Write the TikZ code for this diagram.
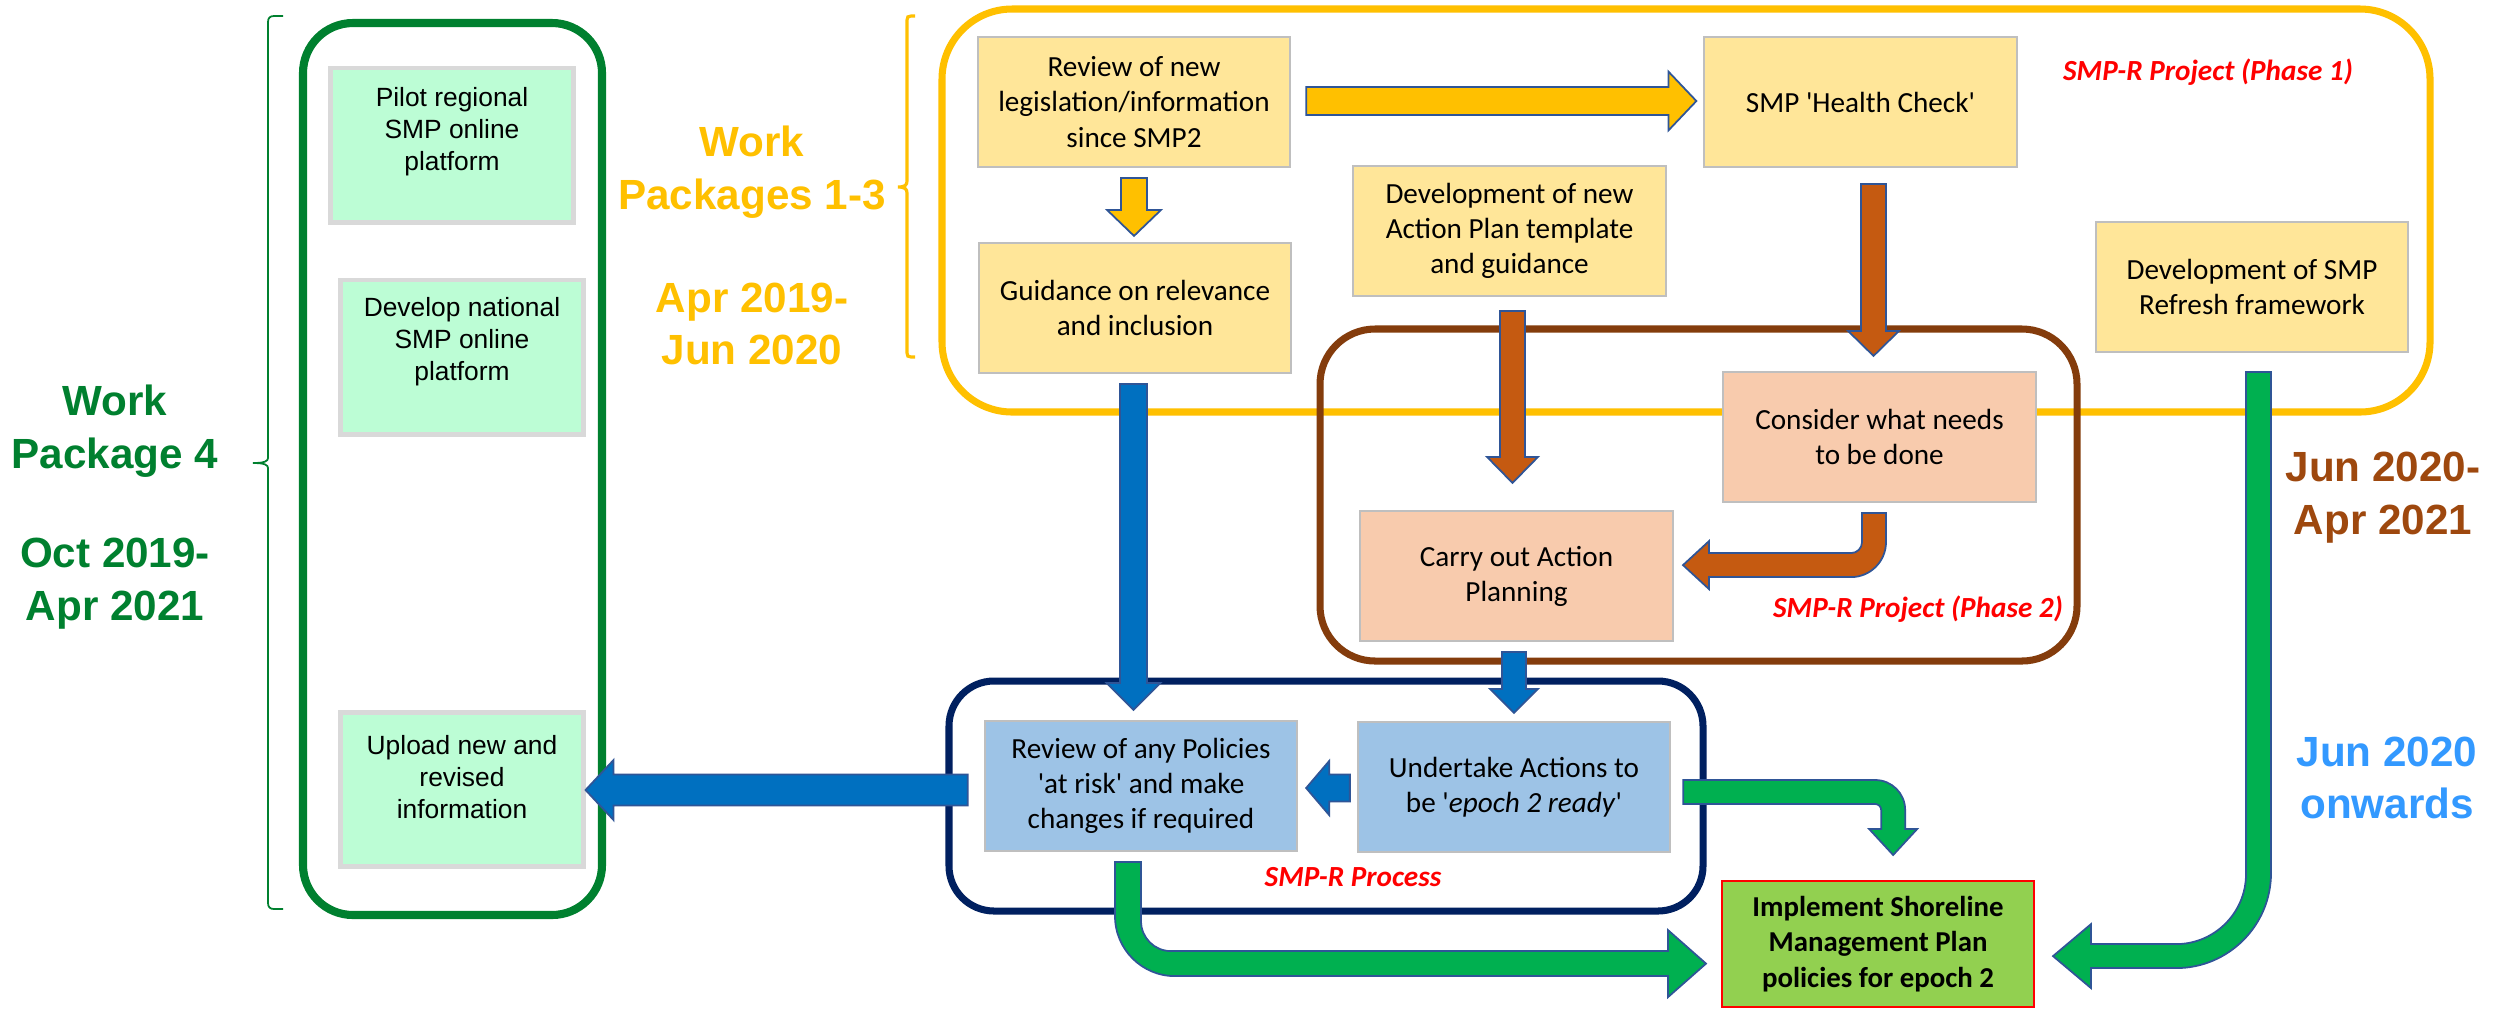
\documentclass[tikz,border=0pt]{standalone}
\usepackage{fontspec}
\newfontfamily\calfont{Carlito}
\newfontfamily\arialfont{Liberation Sans}
\usetikzlibrary{calc}
\definecolor{yfill}{HTML}{FFE699}
\definecolor{pfill}{HTML}{F8CBAD}
\definecolor{bfill}{HTML}{9DC3E6}
\definecolor{gfill}{HTML}{BCFDD5}
\definecolor{ifill}{HTML}{92D050}
\definecolor{boxline}{HTML}{BFBFBF}
\definecolor{gboxline}{HTML}{D9D9D9}
\definecolor{yframe}{HTML}{FFC000}
\definecolor{bframe}{HTML}{843C0C}
\definecolor{nframe}{HTML}{002060}
\definecolor{gframe}{HTML}{00802F}
\definecolor{arrline}{HTML}{2F5597}
\definecolor{brarr}{HTML}{C55A11}
\definecolor{blarr}{HTML}{0070C0}
\definecolor{grarr}{HTML}{00B050}
\definecolor{brtext}{HTML}{9E480E}
\definecolor{bltext}{HTML}{3399FF}
\definecolor{redtext}{HTML}{FF0000}
\newcommand\sq{\textquotesingle}
% block arrows: style, start, tip, shaft half width, head half width, head length
\newcommand\blkdown[6]{\draw[#1] ($#2+(-#4,0)$) -- ($#3+(-#4,-#6)$) -- ($#3+(-#5,-#6)$) -- #3 -- ($#3+(#5,-#6)$) -- ($#3+(#4,-#6)$) -- ($#2+(#4,0)$) -- cycle;}
\newcommand\blkright[6]{\draw[#1] ($#2+(0,-#4)$) -- ($#3+(-#6,-#4)$) -- ($#3+(-#6,-#5)$) -- #3 -- ($#3+(-#6,#5)$) -- ($#3+(-#6,#4)$) -- ($#2+(0,#4)$) -- cycle;}
\newcommand\blkleft[6]{\draw[#1] ($#2+(0,-#4)$) -- ($#3+(#6,-#4)$) -- ($#3+(#6,-#5)$) -- #3 -- ($#3+(#6,#5)$) -- ($#3+(#6,#4)$) -- ($#2+(0,#4)$) -- cycle;}
\tikzset{
  boxtext/.style={font=\calfont\fontsize{8.3}{10}\selectfont, align=center, inner sep=1pt},
  ybox/.style={boxtext, draw=boxline, line width=0.6pt, fill=yfill, minimum width=3.12cm, minimum height=1.3cm},
  pbox/.style={ybox, fill=pfill},
  bbox/.style={ybox, fill=bfill},
  ibox/.style={boxtext, font=\calfont\bfseries\fontsize{8.2}{10.2}\selectfont, draw=redtext, line width=0.7pt, fill=ifill, minimum width=3.12cm, minimum height=1.26cm},
  gbox/.style={draw=gboxline, line width=1.4pt, fill=gfill, minimum width=2.42cm, minimum height=1.54cm},
  gtxt/.style={font=\arialfont\fontsize{7.5}{9.1}\selectfont, align=center, inner sep=0pt},
  biglbl/.style={font=\arialfont\bfseries\fontsize{12}{15}\selectfont, align=center, inner sep=0pt},
  redlbl/.style={font=\calfont\bfseries\itshape\fontsize{8.3}{10}\selectfont, text=redtext, inner sep=0pt},
  frame/.style={line width=2pt},
  arr/.style={draw=arrline, line width=0.5pt, line join=miter},
  yarrow/.style={arr, fill=yframe},
  brarrow/.style={arr, fill=brarr},
  blarrow/.style={arr, fill=blarr},
  grarrow/.style={arr, fill=grarr},
}
\begin{document}
\begin{tikzpicture}[x=0.01cm, y=-0.01cm]
\fill[white] (0,0) rectangle (2494,1011);
\useasboundingbox (0,0) rectangle (2494,1011);

% frames
\draw[frame, draw=yframe, rounded corners=0.7cm] (942,9) rectangle (2430,412);
\draw[frame, draw=bframe, rounded corners=0.55cm] (1320,329) rectangle (2077,661);
\draw[frame, draw=nframe, rounded corners=0.45cm] (949,681) rectangle (1703,911);
\draw[frame, draw=gframe, line width=2.3pt, rounded corners=0.5cm] (303,23) rectangle (602,915);

% braces
\draw[gframe, line width=0.5pt] (283,16) -- (274,16) .. controls (270,16) and (268,18) .. (268,22) -- (268,458) .. controls (268,461) and (265,463) .. (253,463) .. controls (265,463) and (268,465) .. (268,468) -- (268,903) .. controls (268,907) and (270,909) .. (274,909) -- (283,909);
\draw[yframe, line width=0.9pt] (915,16) -- (911,16) .. controls (908,16) and (907,17) .. (907,20) -- (907,181) .. controls (907,185) and (905,187) .. (898,187) .. controls (905,187) and (907,189) .. (907,193) -- (907,353) .. controls (907,356) and (908,357) .. (911,357) -- (915,357);

% left column
\node[gbox] (pilot) at (452,145) {};
\node[gtxt] (pilottxt) at ($(pilot.center)+(0,-13)$) {Pilot regional\\SMP online\\platform};
\node[gbox] (devnat) at (462,357) {};
\node[gtxt] (devnattxt) at ($(devnat.center)+(0,-15)$) {Develop national\\SMP online\\platform};
\node[gbox] (upload) at (462,789.5) {};
\node[gtxt] (uploadtxt) at ($(upload.center)+(0,-12.5)$) {Upload new and\\revised\\information};

% process boxes
\node[ybox] (rev) at (1134,102) {Review of new\\legislation/information\\since SMP2};
\node[ybox] (hc) at (1860.5,102) {SMP \sq Health Check\sq};
\node[ybox] (guid) at (1135,308) {Guidance on relevance\\and inclusion};
\node[ybox] (devap) at (1509.5,231) {Development of new\\Action Plan template\\and guidance};
\node[ybox] (devsmp) at (2252,287) {Development of SMP\\Refresh framework};
\node[pbox] (cons) at (1879.5,437) {Consider what needs\\to be done};
\node[pbox] (carry) at (1516.5,576) {Carry out Action\\Planning};
\node[bbox] (revpol) at (1141,786) {Review of any Policies\\\sq at risk\sq{} and make\\changes if required};
\node[bbox] (under) at (1514,787) {Undertake Actions to\\be \sq\textit{epoch 2 ready}\sq};
\node[ibox] (impl) at (1878,944) {Implement Shoreline\\Management Plan\\policies for epoch 2};

% labels
\node[biglbl, text=yframe] (wp13) at (752,172) {Work\\Packages 1-3};
\node[biglbl, text=yframe] (d13) at (752,324) {Apr 2019-\\Jun 2020};
\node[biglbl, text=gframe] (wp4) at (115,431) {Work\\Package 4};
\node[biglbl, text=gframe] (d4) at (115,584) {Oct 2019-\\Apr 2021};
\node[biglbl, text=brtext] (dph2) at (2383,498) {Jun 2020-\\Apr 2021};
\node[biglbl, text=bltext] (don) at (2387,778) {Jun 2020\\onwards};
\node[redlbl] (ph1) at (2208,72) {SMP-R Project (Phase 1)};
\node[redlbl] (ph2) at (1918,609) {SMP-R Project (Phase 2)};
\node[redlbl] (proc) at (1353,877) {SMP-R Process};

% straight arrows
\coordinate (a1s) at ($(rev.east)+(15,-1)$);
\coordinate (a1t) at ($(a1s -| hc.west)+(-7,0)$);
\blkright{yarrow}{(a1s)}{(a1t)}{14}{29.5}{28}
\coordinate (a2s) at ($(rev.south)+(0,10)$);
\coordinate (a2t) at ($(a2s |- guid.north)+(0,-6)$);
\blkdown{yarrow}{(a2s)}{(a2t)}{13}{27}{26}
\coordinate (a3s) at ($(devap.south)+(3,14)$);
\coordinate (a3t) at ($(a3s |- carry.north)+(0,-27)$);
\blkdown{brarrow}{(a3s)}{(a3t)}{12.5}{25.5}{26}
\coordinate (a4s) at ($(hc.south)+(13,16)$);
\coordinate (a4t) at ($(a4s |- cons.north)+(0,-15)$);
\blkdown{brarrow}{(a4s)}{(a4t)}{12.5}{25.5}{25}
\coordinate (a6s) at ($(guid.south)+(-1.5,10)$);
\coordinate (a6t) at ($(a6s |- revpol.north)+(0,-10)$);
\blkdown{blarrow}{(a6s)}{(a6t)}{13.5}{27}{27}
\coordinate (a7s) at ($(carry.south)+(-2.5,10)$);
\coordinate (a7t) at ($(a7s |- under.north)+(0,-8)$);
\blkdown{blarrow}{(a7s)}{(a7t)}{12}{24}{24}
\coordinate (a8s) at ($(under.west)+(-7,1)$);
\coordinate (a8t) at ($(a8s -| revpol.east)+(8,0)$);
\blkleft{blarrow}{(a8s)}{(a8t)}{13.5}{27}{23}
\coordinate (a9s) at ($(revpol.west)+(-16,4)$);
\coordinate (a9t) at (a9s -| upload.east);
\blkleft{blarrow}{(a9s)}{(a9t)}{15.5}{30}{28}

% bent arrow: consider -> carry out
\coordinate (a5s) at ($(cons.south)+(-5.5,10)$);
\begin{scope}[shift={(a5s)}]
\draw[brarrow] (-12,0) -- (-12,29) .. controls (-12,35.1) and (-16.9,40) .. (-23,40) -- (-165,40) -- (-165,28) -- (-191,52) -- (-165,76) -- (-165,64) -- (-23,64) .. controls (-3.7,64) and (12,48.3) .. (12,29) -- (12,0) -- cycle;
\end{scope}

% bent arrow: undertake -> implement
\coordinate (a10s) at ($(under.east)+(12,5)$);
\begin{scope}[shift={(a10s)}]
\draw[grarrow] (0,-12) -- (192,-12) .. controls (208.6,-12) and (222,1.4) .. (222,18) -- (222,37) -- (234,37) -- (210,63) -- (186,37) -- (198,37) -- (198,18) .. controls (198,14.7) and (195.3,12) .. (192,12) -- (0,12) -- cycle;
\end{scope}

% bent arrow: review of policies -> implement
\coordinate (a11s) at ($(revpol.south)+(-13,10)$);
\begin{scope}[shift={(a11s)}]
\draw[grarrow] (-13,0) -- (-13,54) .. controls (-13,87.1) and (13.9,114) .. (47,114) -- (540,114) -- (540,135) -- (578,101.5) -- (540,68) -- (540,89) -- (43,89) .. controls (26.4,89) and (13,75.6) .. (13,59) -- (13,0) -- cycle;
\end{scope}

% bent arrow: development of SMP refresh framework -> implement
\coordinate (a12s) at ($(devsmp.south)+(6.5,19)$);
\begin{scope}[shift={(a12s)}]
\draw[grarrow] (-12.5,0) -- (-12.5,502) .. controls (-12.5,540.6) and (-43.9,572) .. (-82.5,572) -- (-167.5,572) -- (-167.5,552) -- (-205.5,584) -- (-167.5,616) -- (-167.5,596) -- (-82.5,596) .. controls (-30.1,596) and (12.5,553.4) .. (12.5,501) -- (12.5,0) -- cycle;
\end{scope}
\end{tikzpicture}
\end{document}
